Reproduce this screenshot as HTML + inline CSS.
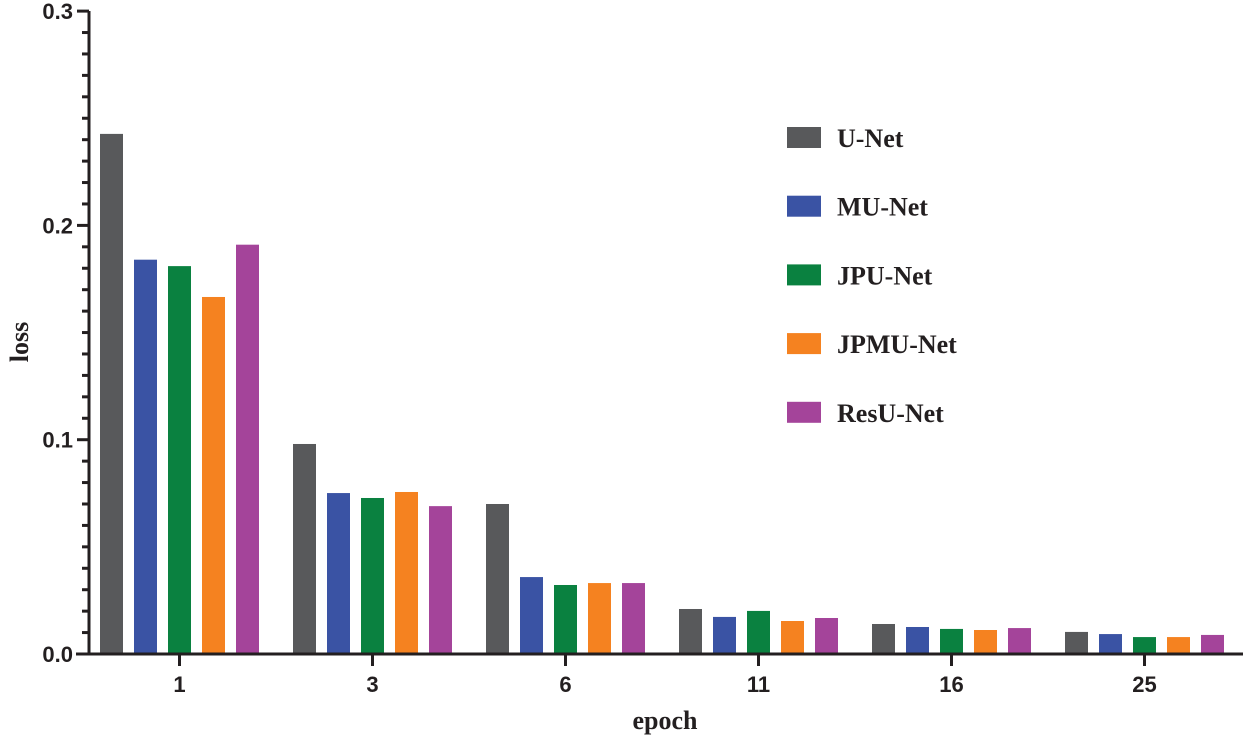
<!DOCTYPE html>
<html><head><meta charset="utf-8"><style>
body{margin:0;background:#fff}
svg{display:block}
.tk{font-family:"Liberation Sans",sans-serif;font-weight:bold;font-size:22px;fill:#231f20}
.lg{font-family:"Liberation Serif",serif;font-weight:bold;font-size:26px;fill:#231f20}
</style></head><body>
<svg id="c" width="1243" height="736"></svg>
<script>
const categories=["1","3","6","11","16","25"];
const seriesNames=["U-Net","MU-Net","JPU-Net","JPMU-Net","ResU-Net"];
const uNet=[0.2427,0.098,0.070,0.021,0.014,0.0103];
const muNet=[0.184,0.0751,0.0359,0.0173,0.0126,0.0093];
const jpuNet=[0.181,0.0728,0.0322,0.0201,0.0117,0.0079];
const jpmuNet=[0.1666,0.0756,0.0331,0.0154,0.0112,0.0079];
const resuNet=[0.191,0.069,0.0331,0.0168,0.0121,0.0089];
const yTicks=["0.0","0.1","0.2","0.3"];
const series=[uNet,muNet,jpuNet,jpmuNet,resuNet];
const colors=["#58595b","#3a53a4","#0a8140","#f58220","#a4449a"];
const NS="http://www.w3.org/2000/svg";
const svg=document.getElementById('c');
function mk(t,a,p){const e=document.createElementNS(NS,t);for(const k in a)e.setAttribute(k,a[k]);(p||svg).appendChild(e);return e;}
const y0=654,pxPer=2143;
const yS=v=>y0-v*pxPer;
const gx=i=>100+i*193;
const bw=23,bs=34;
series.forEach((s,si)=>{s.forEach((v,i)=>{
 const r=mk('rect',{x:gx(i)+si*bs,y:yS(v),width:bw,height:y0-yS(v),fill:colors[si]});
 
 
});});
const ya=mk('line',{x1:89,y1:11,x2:89,y2:655,stroke:'#231f20','stroke-width':3});


for(let k=0;k<=30;k++){const y=yS(k*0.01);const major=k%10===0;
 const t=mk('line',{x1:major?77:82,y1:y,x2:89,y2:y,stroke:'#231f20','stroke-width':3});
 
 
}
yTicks.forEach((l,i)=>{const tx=mk('text',{x:73,y:yS(i*0.1)+8,'text-anchor':'end',class:'tk'});tx.textContent=l;
 
 
});
const xa=mk('line',{x1:76,y1:654,x2:1243,y2:654,stroke:'#231f20','stroke-width':3});


categories.forEach((c,i)=>{const cx=gx(i)+2*bs+bw/2;
 const t=mk('line',{x1:cx,y1:654,x2:cx,y2:666,stroke:'#231f20','stroke-width':3});
 
 
 const tx=mk('text',{x:cx,y:692,'text-anchor':'middle',class:'tk'});tx.textContent=c;
 
 
});
const xt=mk('text',{x:665,y:729,'text-anchor':'middle',class:'lg'});xt.textContent='epoch';


const yt=mk('text',{x:0,y:0,'text-anchor':'middle',class:'lg',transform:'translate(28,342) rotate(-90)'});yt.textContent='loss';


seriesNames.forEach((n,i)=>{const y=127+i*68.7;
 const r=mk('rect',{x:787,y:y,width:34,height:21,fill:colors[i]});
 
 
 const tx=mk('text',{x:837,y:y+20,class:'lg'});tx.textContent=n;
 
 
});
</script>
</body></html>
